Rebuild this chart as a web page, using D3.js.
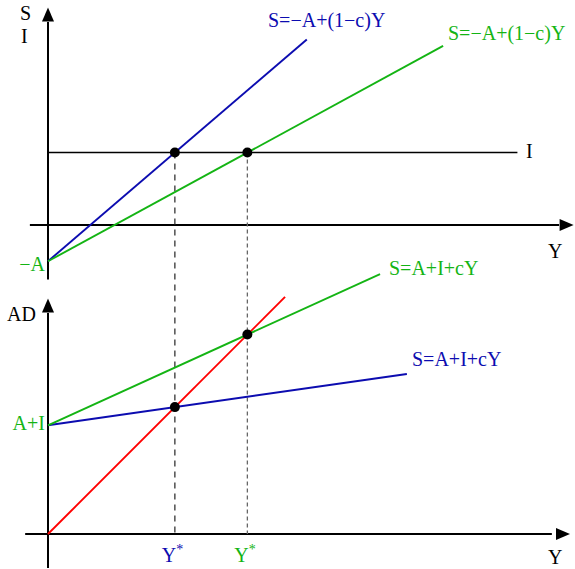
<!DOCTYPE html>
<html>
<head>
<meta charset="utf-8">
<script src="https://cdn.jsdelivr.net/npm/d3@7"></script>
<style>
  html, body { margin: 0; padding: 0; background: #fff; }
  svg text { font-family: "Liberation Serif", "Times New Roman", serif; font-size: 20px; }
</style>
</head>
<body>
<svg id="chart" width="575" height="569"></svg>
<script>
// Keynesian cross: saving = investment (top) and aggregate demand (bottom)
const autonomous = 1;          // A
const investment = 2;          // I
const cases = ["low c", "high c"];
const mpc = [0.143, 0.455];    // marginal propensity to consume
const yStar = [3.5, 5.5];      // equilibrium income for each case
const savingEnds = [7.14, 10.9];   // where each saving line stops (Y)
const demandEnds = [9.9, 9.16];    // where each AD line stops (Y)
const fortyFiveEnd = 6.54;         // end of the AD = Y line
const colors = ["#0c0cb0", "#14b414"];
const savingLabels = ["S=\u2212A+(1\u2212c)Y", "S=\u2212A+(1\u2212c)Y"];
const demandLabels = ["S=A+I+cY", "S=A+I+cY"];

const svg = d3.select("#chart");

const x = d3.scaleLinear().domain([0, 14.5]).range([48, 573.6]);
const yTop = d3.scaleLinear().domain([-1, 6]).range([261.25, 7.5]);
const yBot = d3.scaleLinear().domain([0, 6.5]).range([534, 298.4]);

function arrowUp(px, py) {
  svg.append("path")
    .attr("d", `M${px},${py} L${px - 6},${py + 14} L${px + 6},${py + 14} Z`)
    .attr("fill", "#000");
}
function arrowRight(px, py) {
  svg.append("path")
    .attr("d", `M${px},${py} L${px - 14},${py - 6} L${px - 14},${py + 6} Z`)
    .attr("fill", "#000");
}
function seg(x1, y1, x2, y2, stroke, w) {
  return svg.append("line")
    .attr("x1", x1).attr("y1", y1).attr("x2", x2).attr("y2", y2)
    .attr("stroke", stroke).attr("stroke-width", w);
}

// ---- top panel axes ----
seg(x(0), yTop(-1.5), x(0), yTop(5.6), "#000", 2);
arrowUp(x(0), yTop(6));
seg(x(-0.5), yTop(0), x(14.1), yTop(0), "#000", 2);
arrowRight(x(14.5), yTop(0));

// ---- bottom panel axes ----
seg(x(0), yBot(-0.94), x(0), yBot(6.1), "#000", 2);
arrowUp(x(0), yBot(6.5));
seg(x(-0.63), yBot(0), x(13.9), yBot(0), "#000", 2);
arrowRight(x(14.4), yBot(0));

// dashed drop lines from the equilibria
const dashStyles = [{ c: "#333", d: "6,5", w: 1.3 }, { c: "#666", d: "4,3", w: 1.3 }];
yStar.forEach((ys, i) => {
  seg(x(ys), yTop(investment), x(ys), yBot(0), dashStyles[i].c, dashStyles[i].w)
    .attr("stroke-dasharray", dashStyles[i].d);
});

// investment line
seg(x(0), yTop(investment), x(12.95), yTop(investment), "#000", 1.6);

// saving lines
mpc.forEach((c, i) => {
  seg(x(0), yTop(-autonomous), x(savingEnds[i]),
      yTop(-autonomous + (1 - c) * savingEnds[i]), colors[i], 1.9);
});

// 45-degree line AD = Y
seg(x(0), yBot(0), x(fortyFiveEnd), yBot(fortyFiveEnd), "#ff0000", 1.9);

// aggregate demand lines
mpc.forEach((c, i) => {
  seg(x(0), yBot(autonomous + investment), x(demandEnds[i]),
      yBot(autonomous + investment + c * demandEnds[i]), colors[i], 1.9);
});

// equilibrium points
yStar.forEach(ys => {
  svg.append("circle").attr("cx", x(ys)).attr("cy", yTop(investment)).attr("r", 5).attr("fill", "#000");
});
yStar.forEach((ys, i) => {
  svg.append("circle").attr("cx", x(ys)).attr("cy", yBot(autonomous + investment + mpc[i] * ys))
    .attr("r", 5).attr("fill", "#000");
});

// ---- text ----
function label(t, px, py, fill, anchor) {
  return svg.append("text").attr("x", px).attr("y", py).attr("fill", fill)
    .attr("text-anchor", anchor || "start").text(t);
}
label("S", 20, 20, "#000");
label("I", 21, 43, "#000");
label("Y", 548, 258, "#000");
label("I", 526, 158, "#000");
label("\u2212A", 45, 271, colors[1], "end");
label(savingLabels[0], 268, 27, colors[0]);
label(savingLabels[1], 448, 40, colors[1]);

label("AD", 7, 321, "#000");
label("A+I", 45, 430, colors[1], "end");
label("Y", 548, 564, "#000");
label(demandLabels[1], 389, 275, colors[1]);
label(demandLabels[0], 412, 366, colors[0]);

yStar.forEach((ys, i) => {
  const t = svg.append("text").attr("x", x(ys) - 13).attr("y", 562).attr("fill", colors[i]);
  t.append("tspan").text("Y");
  t.append("tspan").attr("dy", -8).attr("font-size", "14px").text("*");
});
</script>
</body>
</html>
